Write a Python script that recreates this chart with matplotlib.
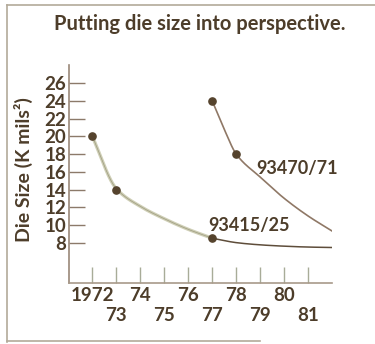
import matplotlib
matplotlib.use("Agg")
import matplotlib.pyplot as plt
from matplotlib.lines import Line2D
import numpy as np

# die size readings (K mils^2) per year
years_415_early = [1972, 1973, 1974, 1975, 1976, 1977]
size_415_early = [20.0, 14.1, 12.1, 10.7, 9.5, 8.5]
years_415_late = [1977, 1978, 1979, 1980, 1981, 1982]
size_415_late = [8.5, 8.0, 7.75, 7.6, 7.5, 7.45]
marks_415_years = [1972, 1973, 1977]
marks_415_size = [20, 14, 8.5]

years_470 = [1977, 1977.5, 1978, 1979, 1980, 1981, 1982]
size_470 = [24.0, 20.8, 18.0, 15.4, 13.0, 11.0, 9.3]
marks_470_years = [1977, 1978]
marks_470_size = [24, 18]

y_ticks = list(range(8, 27, 2))
x_years = list(range(1972, 1982))
x_labels = ["1972", "73", "74", "75", "76", "77", "78", "79", "80", "81"]

INK = "#4d3d2a"
FONT = "Lato"
WEIGHT = "bold"


def smooth(x, y, n=200):
    # monotone cubic (Fritsch-Carlson) so the curves look hand drawn
    x = np.asarray(x, float)
    y = np.asarray(y, float)
    h = np.diff(x)
    d = np.diff(y) / h
    m = np.zeros_like(y)
    m[0] = d[0]
    m[-1] = d[-1]
    for k in range(1, len(x) - 1):
        if d[k - 1] * d[k] > 0:
            w1 = 2 * h[k] + h[k - 1]
            w2 = h[k] + 2 * h[k - 1]
            m[k] = (w1 + w2) / (w1 / d[k - 1] + w2 / d[k])
    xs = np.linspace(x[0], x[-1], n)
    i = np.clip(np.searchsorted(x, xs) - 1, 0, len(h) - 1)
    t = (xs - x[i]) / h[i]
    h00 = 2 * t**3 - 3 * t**2 + 1
    h10 = t**3 - 2 * t**2 + t
    h01 = -2 * t**3 + 3 * t**2
    h11 = t**3 - t**2
    ys = h00 * y[i] + h10 * h[i] * m[i] + h01 * y[i + 1] + h11 * h[i] * m[i + 1]
    return xs, ys


fig = plt.figure(figsize=(3.75, 3.44), dpi=100)
fig.patch.set_facecolor("white")
ax = fig.add_axes([69 / 375, 61 / 344, 263 / 375, 218 / 344])
ax.set_xlim(1971.03, 1981.99)
ax.set_ylim(3.44, 28.07)

# curves
xs, ys = smooth(years_415_early, size_415_early)
ax.plot(xs, ys, color="#cfcfb6", lw=2.4, solid_capstyle="round", zorder=2)
ax.plot(xs, ys, color="#a3a186", lw=0.6, zorder=2)
xs, ys = smooth(years_415_late, size_415_late)
ax.plot(xs, ys, color="#5e4d3a", lw=1.1, zorder=2)
xs, ys = smooth(years_470, size_470)
ax.plot(xs, ys, color="#8f7866", lw=1.2, zorder=2)

ax.plot(marks_415_years, marks_415_size, "o", color="#55432d", ms=5.2, zorder=3)
ax.plot(marks_470_years, marks_470_size, "o", color="#55432d", ms=5.2, zorder=3)

ax.text(1976.83, 9.31, "93415/25", fontsize=13, color=INK, family=FONT,
        weight=WEIGHT, ha="left", va="baseline")
ax.text(1978.85, 15.75, "93470/71", fontsize=13, color=INK, family=FONT,
        weight=WEIGHT, ha="left", va="baseline")

# axes
for side in ["top", "right"]:
    ax.spines[side].set_visible(False)
ax.spines["left"].set_color("#9a8878")
ax.spines["bottom"].set_color("#a89a8a")
ax.spines["left"].set_linewidth(1.2)
ax.spines["bottom"].set_linewidth(1.2)

ax.set_yticks(y_ticks)
ax.set_yticklabels([str(v) for v in y_ticks])
ax.tick_params(axis="y", direction="in", length=11.5, width=1.0,
               color="#8c7a6a", pad=2, labelsize=13.5, labelcolor=INK)

ax.set_xticks(x_years[::2])
ax.set_xticklabels(x_labels[::2])
ax.set_xticks(x_years[1::2], minor=True)
ax.set_xticklabels(x_labels[1::2], minor=True)
ax.tick_params(axis="x", which="both", direction="in", length=11.5, width=1.0,
               color="#a8ac98", labelsize=13.5, labelcolor=INK)
ax.tick_params(axis="x", which="major", pad=3)
ax.tick_params(axis="x", which="minor", pad=17.4)

for lab in ax.get_xticklabels(which="both") + ax.get_yticklabels():
    lab.set_family(FONT)
    lab.set_weight(WEIGHT)

fig.text(23 / 375, 1 - 170 / 344, "Die Size (K mils\u00b2)", rotation=90,
         fontsize=14, color=INK, family=FONT, weight=WEIGHT,
         ha="center", va="center")
fig.text(200 / 375, 1 - 30 / 344, "Putting die size into perspective.",
         fontsize=14.5, color=INK, family=FONT, weight=WEIGHT,
         ha="center", va="baseline")

# frame around the panel
frame = "#b3aa9a"
fig.add_artist(Line2D([7 / 375, 1.0], [1 - 5 / 344, 1 - 5 / 344], color=frame, lw=1.2))
fig.add_artist(Line2D([7 / 375, 7 / 375], [1 - 5 / 344, 1 - 342 / 344], color=frame, lw=1.2))
fig.add_artist(Line2D([7 / 375, 260 / 375], [1 - 341 / 344, 1 - 341 / 344], color=frame, lw=1.2))

fig.savefig("out.png", dpi=100)
